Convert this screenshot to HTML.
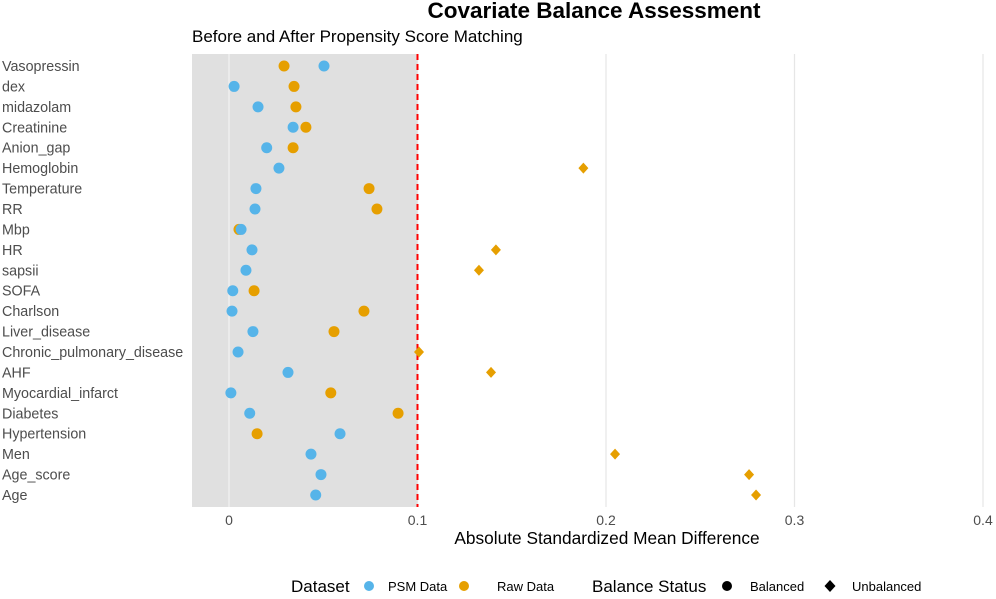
<!DOCTYPE html>
<html><head><meta charset="utf-8"><style>
body{margin:0;background:#fff;font-family:"Liberation Sans",Arial,sans-serif}
</style></head><body>
<svg id="chart" width="996" height="594" xmlns="http://www.w3.org/2000/svg" font-family="Liberation Sans, Arial, sans-serif">
<text x="594" y="18" text-anchor="middle" font-size="22.5" font-weight="bold" fill="#000">Covariate Balance Assessment</text>
<text x="192" y="42" font-size="17" fill="#000">Before and After Propensity Score Matching</text>
<g id="plot"></g>
<text x="607" y="544" text-anchor="middle" font-size="17.3" fill="#000">Absolute Standardized Mean Difference</text>
<g font-size="13" fill="#000">
<text x="291" y="592" font-size="17">Dataset</text>
<circle cx="369" cy="586" r="5" fill="#56B4E9"/>
<text x="388" y="591">PSM Data</text>
<circle cx="464" cy="586" r="5" fill="#E69F00"/>
<text x="497" y="591">Raw Data</text>
<text x="592" y="592" font-size="17">Balance Status</text>
<circle cx="727" cy="586" r="5" fill="#000"/>
<text x="750" y="591">Balanced</text>
<path d="M830,580 L835.5,586 L830,592 L824.5,586Z" fill="#000"/>
<text x="852" y="591">Unbalanced</text>
</g>
</svg>
<script>
const categories=["Vasopressin","dex","midazolam","Creatinine","Anion_gap","Hemoglobin","Temperature","RR","Mbp","HR","sapsii","SOFA","Charlson","Liver_disease","Chronic_pulmonary_disease","AHF","Myocardial_infarct","Diabetes","Hypertension","Men","Age_score","Age"];
const psmValues=[0.0504,0.0027,0.0154,0.034,0.020,0.0265,0.0143,0.0138,0.0064,0.0122,0.009,0.002,0.0016,0.0127,0.0048,0.0313,0.001,0.011,0.0589,0.0435,0.0488,0.046];
const rawValues=[0.0292,0.0345,0.0355,0.0408,0.034,0.188,0.0743,0.0785,0.0053,0.1416,0.1326,0.0133,0.0716,0.0557,0.1008,0.139,0.054,0.0897,0.0149,0.2048,0.2759,0.2796];
const xTicks=[0,0.1,0.2,0.3,0.4];
const xTickLabels=["0","0.1","0.2","0.3","0.4"];
const threshold=0.1;
const NS="http://www.w3.org/2000/svg";
const g=document.getElementById('plot');
const x=v=>229+v*1885;
const y=i=>66+i*((495-66)/(categories.length-1));
function mk(t,a){const e=document.createElementNS(NS,t);for(const k in a)e.setAttribute(k,a[k]);g.appendChild(e);return e;}
let r=mk('rect',{x:192,y:54,width:x(threshold)-192,height:453,fill:'#e0e0e0'});


xTicks.forEach((t,i)=>{
 let l=mk('line',{x1:x(t),x2:x(t),y1:54,y2:507,stroke:i===0?'#f2f2f2':'#e6e6e6','stroke-width':1.2});
 
 
 let tx=mk('text',{x:x(t),y:525,'text-anchor':'middle','font-size':14,fill:'#4d4d4d'});
 tx.textContent=xTickLabels[i];
 
 
});
let th=mk('line',{x1:x(threshold),x2:x(threshold),y1:54,y2:507,stroke:'#ff0000','stroke-width':2,'stroke-dasharray':'6,4'});


function mark(v,i,color,name){
 let e;
 if(v<threshold){e=mk('circle',{cx:x(v),cy:y(i),r:5.5,fill:color});}
 else{const cx=x(v),cy=y(i);e=mk('path',{d:`M${cx},${cy-5.5}L${cx+5},${cy}L${cx},${cy+5.5}L${cx-5},${cy}Z`,fill:color});}
 
 
}
categories.forEach((c,i)=>{
 let t=mk('text',{x:2,y:y(i)+5,'font-size':14.3,fill:'#4d4d4d'});
 t.textContent=c;
 
 
 mark(rawValues[i],i,'#E69F00','raw-point');
 mark(psmValues[i],i,'#56B4E9','psm-point');
});
</script>
</body></html>
